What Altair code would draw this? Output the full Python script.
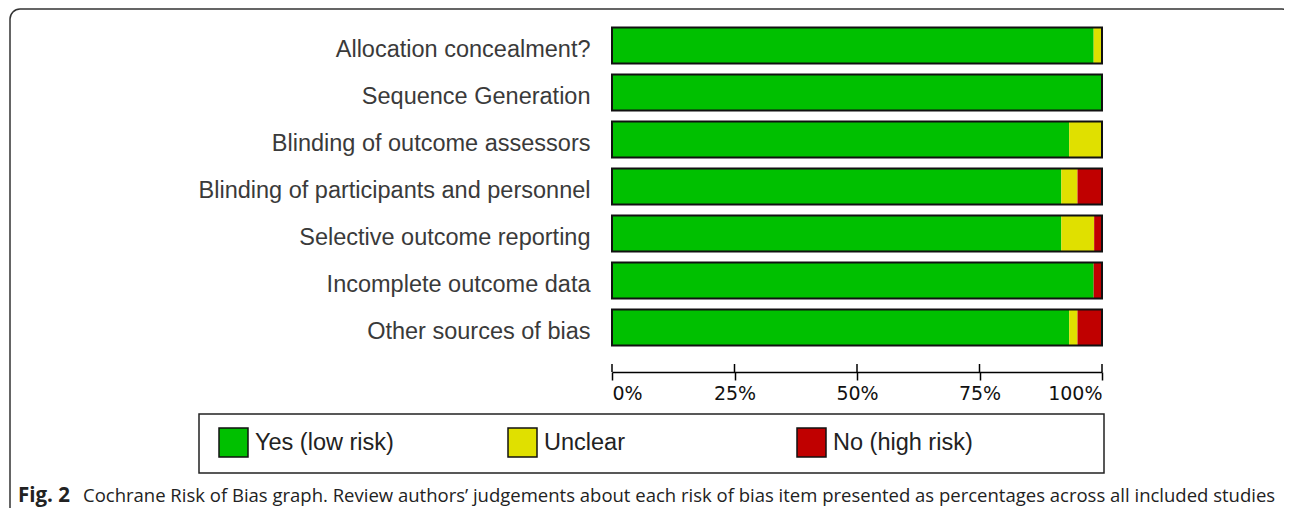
import altair as alt
import pandas as pd

categories = [
    "Allocation concealment?",
    "Sequence Generation",
    "Blinding of outcome assessors",
    "Blinding of participants and personnel",
    "Selective outcome reporting",
    "Incomplete outcome data",
    "Other sources of bias",
]
low_risk = [98.3, 100.0, 93.3, 91.7, 91.7, 98.3, 93.3]
unclear = [1.7, 0.0, 6.7, 3.3, 6.7, 0.0, 1.7]
high_risk = [0.0, 0.0, 0.0, 5.0, 1.7, 1.7, 5.0]

risk_names = ["Yes (low risk)", "Unclear", "No (high risk)"]
risk_colors = ["#00c000", "#e0e000", "#c00000"]
tick_values = [0, 25, 50, 75, 100]

caption_bold = "Fig. 2"
caption_text = ("Cochrane Risk of Bias graph. Review authors\u2019 judgements about each risk of bias "
                "item presented as percentages across all included studies")

rows = []
for i, c in enumerate(categories):
    for k, (name, vals) in enumerate(zip(risk_names, [low_risk, unclear, high_risk])):
        rows.append({"item": c, "risk": name, "pct": vals[i], "order": k})
df = pd.DataFrame(rows)
outline_df = pd.DataFrame({"item": categories, "start": [0] * len(categories), "end": [100] * len(categories)})
ticks_df = pd.DataFrame({"t": tick_values})

W, H = 490, 329
TOP = 14
TOTAL_W, TOTAL_H = 1276, 500
LABEL_FONT = "Liberation Sans"

yscale = alt.Scale(domain=categories, paddingInner=0.23, paddingOuter=0.115)
xscale = alt.Scale(domain=[0, 100], nice=False, zero=True)

bars = alt.Chart(df).mark_bar(stroke=None).encode(
    x=alt.X("pct:Q", stack="zero", scale=xscale,
            axis=alt.Axis(values=tick_values, labelExpr="datum.value + '%'", title=None,
                          offset=21, tickSize=8, tickColor="#000", tickWidth=1.5,
                          domainColor="#000", domainWidth=1.5, grid=False,
                          labelFont="DejaVu Sans", labelFontSize=19, labelColor="#111",
                          labelFlush=True, labelPadding=4)),
    y=alt.Y("item:N", scale=yscale, sort=categories,
            axis=alt.Axis(title=None, ticks=False, domain=False, labelFont=LABEL_FONT,
                          labelFontSize=23.5, labelColor="#3a3a3a", labelPadding=22,
                          labelLimit=600, labelOffset=4)),
    color=alt.Color("risk:N", scale=alt.Scale(domain=risk_names, range=risk_colors),
                    legend=alt.Legend(title=None, orient="none", legendX=-394, legendY=405,
                                      direction="horizontal", columns=3, gridAlign="all",
                                      columnPadding=110, symbolType="square", symbolSize=841,
                                      symbolStrokeColor="#111", symbolStrokeWidth=1.5,
                                      symbolOpacity=1, labelFont=LABEL_FONT, labelFontSize=23.5,
                                      labelColor="#222", labelOffset=6, padding=0)),
    order=alt.Order("order:Q"),
)

outline = alt.Chart(outline_df).mark_bar(fill=None, stroke="#111", strokeWidth=2).encode(
    x=alt.X("start:Q", scale=xscale), x2="end:Q",
    y=alt.Y("item:N", scale=yscale, sort=categories),
)

upper_ticks = alt.Chart(ticks_df).mark_rule(color="#000", strokeWidth=1.5).encode(
    x=alt.X("t:Q", scale=xscale), y=alt.value(H + 13), y2=alt.value(H + 21),
)

one = alt.Data(values=[{"a": 1}])
legend_box = alt.Chart(one).mark_rect(fill="white", stroke="#222", strokeWidth=1.5).encode(
    x=alt.value(-413), x2=alt.value(492), y=alt.value(392), y2=alt.value(451),
)
frame = alt.Chart(one).mark_rect(fill=None, stroke="#333", strokeWidth=1.5, cornerRadius=10).encode(
    x=alt.value(-602), x2=alt.value(680), y=alt.value(-13), y2=alt.value(520),
)
cap1 = alt.Chart(one).mark_text(align="left", baseline="alphabetic", font="Open Sans",
                                fontWeight="bold", fontSize=20.5, color="#222").encode(
    x=alt.value(-594), y=alt.value(TOTAL_H - TOP - 6), text=alt.value(caption_bold))
cap2 = alt.Chart(one).mark_text(align="left", baseline="alphabetic", font="Open Sans",
                                fontSize=18.5, color="#222").encode(
    x=alt.value(-529), y=alt.value(TOTAL_H - TOP - 6), text=alt.value(caption_text))

chart = alt.layer(frame, legend_box, bars, outline, upper_ticks, cap1, cap2).properties(
    width=W, height=H,
    autosize=alt.AutoSizeParams(type="none"),
    padding={"left": 604, "top": TOP, "right": TOTAL_W - 604 - W, "bottom": TOTAL_H - TOP - H},
    background="white",
).configure_view(stroke=None)

chart.save("out.html", embed_options={"renderer": "svg", "actions": False})
